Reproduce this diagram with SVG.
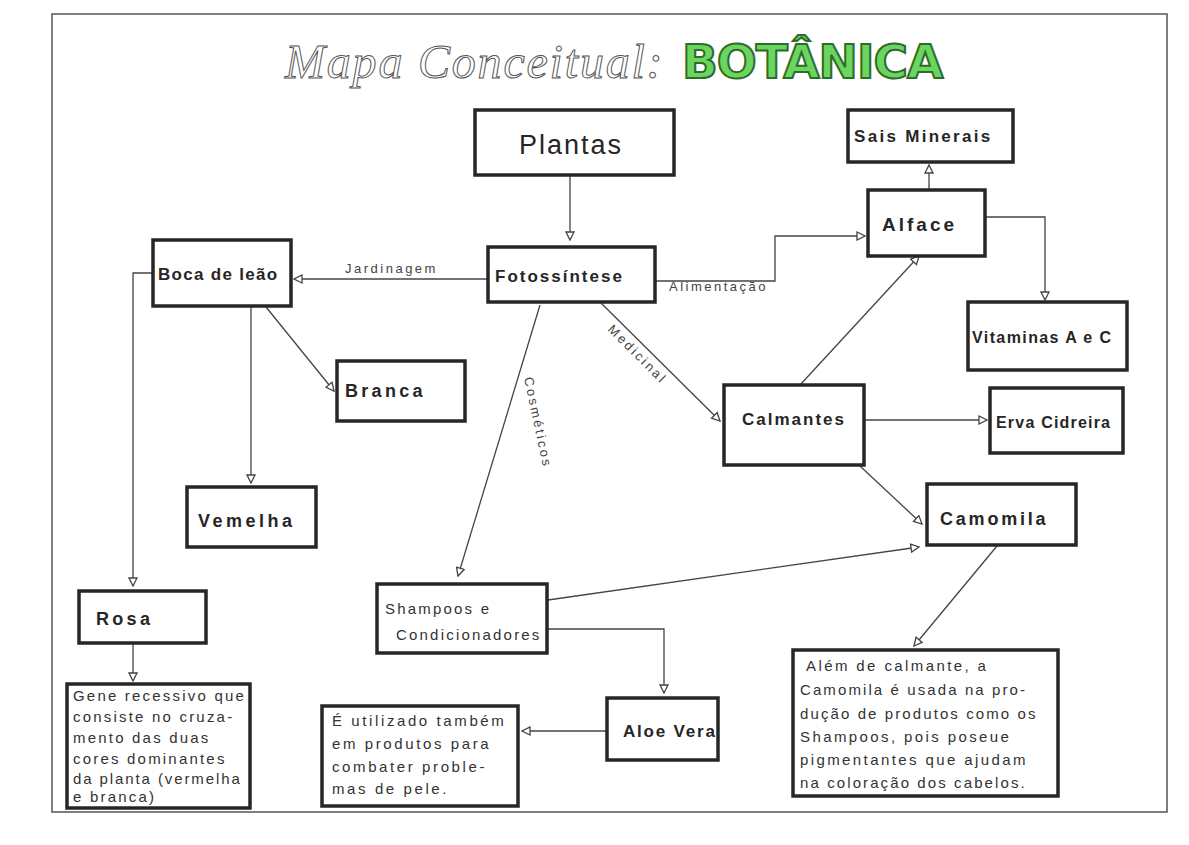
<svg xmlns="http://www.w3.org/2000/svg" width="1189" height="845" viewBox="0 0 1189 845">
<style>
.box{fill:#fff;stroke:#262626;stroke-width:3.5}
.lbl{font-family:"Liberation Sans",Arial,sans-serif;font-weight:bold;fill:#262626}
.txt{font-family:"Liberation Sans",Arial,sans-serif;fill:#333;font-size:15px;letter-spacing:2.2px}
.edge{fill:none;stroke:#444;stroke-width:1.3}
.el{font-family:"Liberation Sans",Arial,sans-serif;fill:#444;font-size:13px;letter-spacing:2.5px}
</style>
<defs>
<marker id="ah" viewBox="0 0 10 10" refX="9" refY="5" markerWidth="10" markerHeight="10" markerUnits="userSpaceOnUse" orient="auto">
<path d="M1,1 L9,5 L1,9 Z" fill="#fff" stroke="#444" stroke-width="1.3"/>
</marker>
</defs>
<rect x="0" y="0" width="1189" height="845" fill="#fff"/>
<path d="M52,14 L1167,14 L1167,812 L52,812 Z" fill="none" stroke="#555" stroke-width="1.5"/>
<g id="title">
<text x="285" y="78" font-family="'Liberation Serif',serif" font-style="italic" font-size="48" fill="#fff" stroke="#555" stroke-width="1" letter-spacing="1.8">Mapa Conceitual:</text>
<text x="682" y="78" font-family="'DejaVu Sans',sans-serif" font-weight="bold" font-size="47" fill="#6bd65e" stroke="#2f6b2c" stroke-width="2" letter-spacing="-1">BOTÂNICA</text>
</g>
<g id="connectors">
<path class="edge" marker-end="url(#ah)" d="M570,175 L570,240"/>
<path class="edge" marker-end="url(#ah)" d="M488,279 L294,279"/>
<path class="edge" marker-end="url(#ah)" d="M655,281 L775,281 L775,236 L865,236"/>
<path class="edge" marker-end="url(#ah)" d="M601,303 L720,421"/>
<path class="edge" marker-end="url(#ah)" d="M540,305 L458,576"/>
<path class="edge" marker-end="url(#ah)" d="M266,307 L334,391"/>
<path class="edge" marker-end="url(#ah)" d="M251,307 L251,483"/>
<path class="edge" marker-end="url(#ah)" d="M153,273 L133,273 L133,586"/>
<path class="edge" marker-end="url(#ah)" d="M929,190 L929,165"/>
<path class="edge" marker-end="url(#ah)" d="M986,217 L1045,217 L1045,300"/>
<path class="edge" marker-end="url(#ah)" d="M800,385 L919,256"/>
<path class="edge" marker-end="url(#ah)" d="M865,420 L987,420"/>
<path class="edge" marker-end="url(#ah)" d="M845,452 L922,524"/>
<path class="edge" marker-end="url(#ah)" d="M548,600 L919,547"/>
<path class="edge" marker-end="url(#ah)" d="M548,629 L664,629 L664,693"/>
<path class="edge" marker-end="url(#ah)" d="M997,546 L914,646"/>
<path class="edge" marker-end="url(#ah)" d="M133,644 L133,681"/>
<path class="edge" marker-end="url(#ah)" d="M607,731 L522,731"/>
<text class="el" x="345" y="273">Jardinagem</text>
<text class="el" x="669" y="291">Alimentação</text>
<text class="el" transform="translate(607,330) rotate(45)">Medicinal</text>
<text class="el" transform="translate(524,378) rotate(78)">Cosméticos</text>
</g>
<g id="plantas"><rect class="box" x="475" y="110" width="199" height="65"/><text class="lbl" x="571" y="154" text-anchor="middle" style="font-size:27px;font-weight:normal;letter-spacing:2px">Plantas</text></g>
<g id="sais"><rect class="box" x="848" y="110" width="165" height="52"/><text class="lbl" x="854" y="142" style="font-size:17px;letter-spacing:2.3px">Sais Minerais</text></g>
<g id="alface"><rect class="box" x="868" y="190" width="117" height="66"/><text class="lbl" x="882" y="231" style="font-size:19px;letter-spacing:3px">Alface</text></g>
<g id="boca"><rect class="box" x="153" y="240" width="138" height="66"/><text class="lbl" x="158" y="280" style="font-size:17px;letter-spacing:1.3px">Boca de leão</text></g>
<g id="fotossintese"><rect class="box" x="488" y="247" width="167" height="55"/><text class="lbl" x="495" y="282" style="font-size:17px;letter-spacing:2px">Fotossíntese</text></g>
<g id="vitaminas"><rect class="box" x="968" y="302" width="159" height="68"/><text class="lbl" x="972" y="343" style="font-size:16px;letter-spacing:1.4px">Vitaminas A e C</text></g>
<g id="branca"><rect class="box" x="337" y="361" width="128" height="60"/><text class="lbl" x="345" y="397" style="font-size:18px;letter-spacing:3.3px">Branca</text></g>
<g id="calmantes"><rect class="box" x="724" y="385" width="140" height="80"/><text class="lbl" x="742" y="425" style="font-size:17px;letter-spacing:2px">Calmantes</text></g>
<g id="erva"><rect class="box" x="990" y="388" width="133" height="65"/><text class="lbl" x="996" y="428" style="font-size:16px;letter-spacing:1.2px">Erva Cidreira</text></g>
<g id="vemelha"><rect class="box" x="187" y="487" width="129" height="60"/><text class="lbl" x="198" y="527" style="font-size:18px;letter-spacing:3.5px">Vemelha</text></g>
<g id="camomila"><rect class="box" x="927" y="484" width="149" height="61"/><text class="lbl" x="940" y="525" style="font-size:18px;letter-spacing:2.8px">Camomila</text></g>
<g id="rosa"><rect class="box" x="79" y="591" width="127" height="52"/><text class="lbl" x="96" y="625" style="font-size:18px;letter-spacing:3.3px">Rosa</text></g>
<g id="shampoos"><rect class="box" x="377" y="584" width="170" height="69"/><text class="txt" x="385" y="614">Shampoos e</text><text class="txt" x="396" y="640">Condicionadores</text></g>
<g id="gene"><rect class="box" x="67" y="684" width="183" height="124"/>
<text class="txt" x="73" y="701">Gene recessivo que</text>
<text class="txt" x="73" y="722">consiste no cruza-</text>
<text class="txt" x="73" y="743">mento das duas</text>
<text class="txt" x="73" y="764">cores dominantes</text>
<text class="txt" x="73" y="784" style="letter-spacing:1.9px">da planta (vermelha</text>
<text class="txt" x="73" y="802">e branca)</text></g>
<g id="aloe"><rect class="box" x="607" y="698" width="111" height="62"/><text class="lbl" x="623" y="737" style="font-size:17px;letter-spacing:1.8px">Aloe Vera</text></g>
<g id="utilizado"><rect class="box" x="322" y="706" width="196" height="100"/>
<text class="txt" x="332" y="726" style="letter-spacing:2.6px">É utilizado também</text>
<text class="txt" x="332" y="749" style="letter-spacing:2.6px">em produtos para</text>
<text class="txt" x="332" y="772" style="letter-spacing:2.6px">combater proble-</text>
<text class="txt" x="332" y="794" style="letter-spacing:2.6px">mas de pele.</text></g>
<g id="alem"><rect class="box" x="793" y="650" width="265" height="146"/>
<text class="txt" x="806" y="671" style="letter-spacing:2.4px">Além de calmante, a</text>
<text class="txt" x="800" y="695" style="letter-spacing:2.1px">Camomila é usada na pro-</text>
<text class="txt" x="800" y="719" style="letter-spacing:2.1px">dução de produtos como os</text>
<text class="txt" x="800" y="742" style="letter-spacing:2.4px">Shampoos, pois poseue</text>
<text class="txt" x="800" y="765" style="letter-spacing:2.4px">pigmentantes que ajudam</text>
<text class="txt" x="800" y="788" style="letter-spacing:2.1px">na coloração dos cabelos.</text></g>
</svg>
